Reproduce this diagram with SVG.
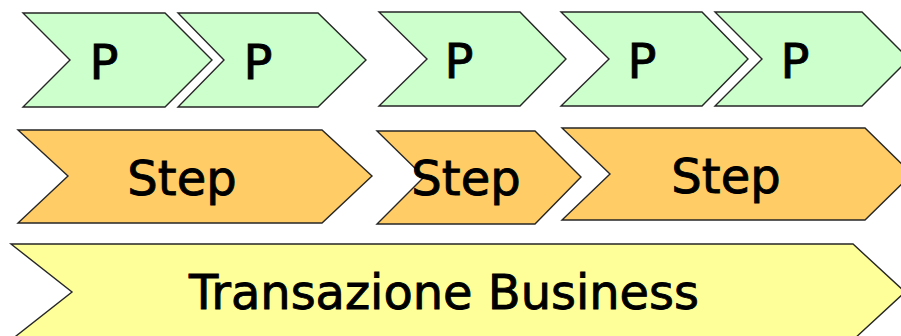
<svg xmlns="http://www.w3.org/2000/svg" width="901" height="336" viewBox="0 0 901 336">
  <style>
    .chev { stroke: #262626; stroke-width: 1.4; stroke-linejoin: miter; }
    .p { fill: #ccffcc; }
    .step { fill: #ffcc66; }
    .biz { fill: #ffff99; }
    .lbl { font-family: "DejaVu Sans", Verdana, sans-serif; font-size: 48px; fill: #000; stroke: #000; stroke-width: 0.9; text-anchor: middle; }
  </style>
  <rect width="901" height="336" fill="#ffffff"/>

  <!-- Row 1: process chevrons -->
  <g id="p1">
    <polygon class="chev p" points="23,13 165,13 212,60 165,107 23,107 70,60"/>
    <text class="lbl" x="104" y="79">P</text>
  </g>
  <g id="p2">
    <polygon class="chev p" points="178,13 318,13 366,60 318,107 178,107 224,60"/>
    <text class="lbl" x="258" y="79">P</text>
  </g>
  <g id="p3">
    <polygon class="chev p" points="379,12 520,12 566,59 520,106 379,106 427,59"/>
    <text class="lbl" x="459" y="78">P</text>
  </g>
  <g id="p4">
    <polygon class="chev p" points="561,12 702,12 748,59 702,106 561,106 609,59"/>
    <text class="lbl" x="642" y="78">P</text>
  </g>
  <g id="p5">
    <polygon class="chev p" points="715,12 862,12 909,59 862,106 715,106 762,59"/>
    <text class="lbl" x="795" y="78">P</text>
  </g>

  <!-- Row 2: step chevrons -->
  <g id="step1">
    <polygon class="chev step" points="18,130 322,130 372,176 322,223 18,223 68,176"/>
    <text class="lbl" x="182" y="195">Step</text>
  </g>
  <g id="step2">
    <polygon class="chev step" points="377,131 535,131 581,177 535,224 377,224 424,177"/>
    <text class="lbl" x="466" y="195">Step</text>
  </g>
  <g id="step3">
    <polygon class="chev step" points="562,128 865,128 912,174 865,220 562,220 610,174"/>
    <text class="lbl" x="726" y="193">Step</text>
  </g>

  <!-- Row 3: business transaction -->
  <g id="transazione">
    <polygon class="chev biz" points="11,244 853,244 905,292 853,340 11,340 72,292"/>
    <text class="lbl" x="444" y="309" textLength="510" lengthAdjust="spacingAndGlyphs">Transazione Business</text>
  </g>

  <g id="connectors"></g>
</svg>
